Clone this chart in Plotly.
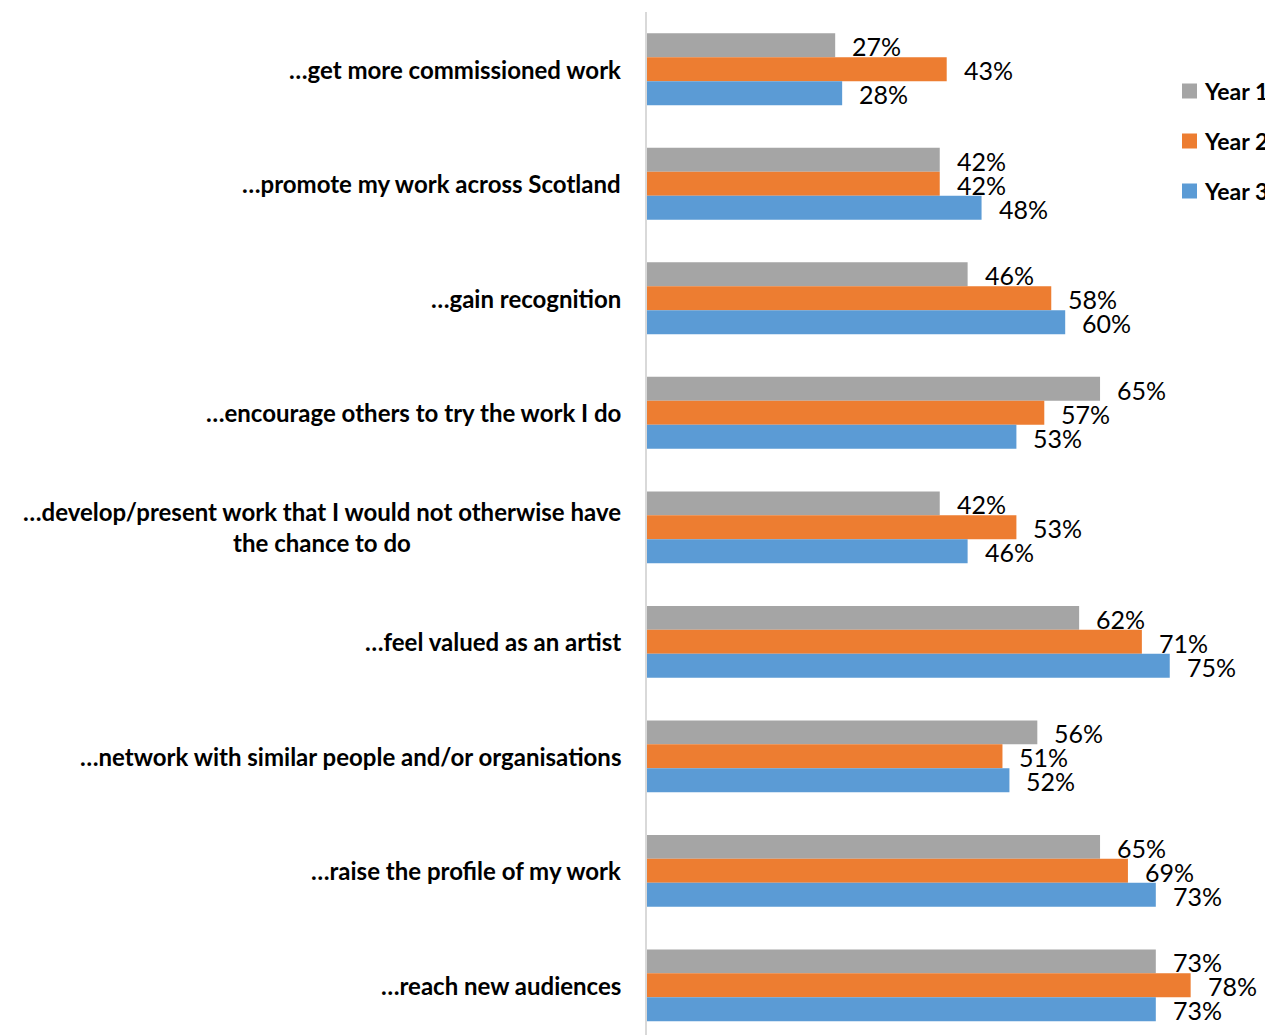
import plotly.graph_objects as go

# Survey statements (top to bottom) and percentage agreeing in each year
categories = [
    "…get more commissioned work",
    "…promote my work across Scotland",
    "…gain recognition",
    "…encourage others to try the work I do",
    "…develop/present work that I would not otherwise have<br>the chance to do",
    "…feel valued as an artist",
    "…network with similar people and/or organisations",
    "…raise the profile of my work",
    "…reach new audiences",
]
series_names = ["Year 1", "Year 2", "Year 3"]
year1 = [27, 42, 46, 65, 42, 62, 56, 65, 73]
year2 = [43, 42, 58, 57, 53, 71, 51, 69, 78]
year3 = [28, 48, 60, 53, 46, 75, 52, 73, 73]
colors = ["#A5A5A5", "#ED7D31", "#5B9BD5"]

LABEL_FONT = "Lato"
series = [year1, year2, year3]
ypos = list(range(len(categories)))
bar_w = 0.209  # thickness of one bar in category units

fig = go.Figure()
for name, vals, col in zip(series_names, series, colors):
    fig.add_trace(go.Bar(
        x=vals, y=ypos, name=name, orientation="h",
        marker=dict(color=col, line=dict(width=0)),
        showlegend=False,
    ))

annotations = []
# value labels just beyond each bar end
for k, vals in enumerate(series):
    for i, v in enumerate(vals):
        annotations.append(dict(
            x=v, y=i + (k - 1) * bar_w, xref="x", yref="y",
            text=f"{v}%", showarrow=False, xanchor="left", yanchor="middle",
            xshift=15, yshift=-1,
            font=dict(family=LABEL_FONT, size=25, color="#000000"),
        ))

# category labels, right-aligned left of the axis
for i, c in enumerate(categories):
    annotations.append(dict(
        x=0, y=i, xref="paper", yref="y", text=f"<b>{c}</b>", showarrow=False,
        xanchor="right", yanchor="middle", align="center", xshift=-24,
        font=dict(family=LABEL_FONT, size=24, color="#000000"),
    ))

# legend drawn as swatches plus bold text
shapes = []
legend_y = [91, 141, 191]
fig_w, fig_h = 1265, 1035
for name, col, ly in zip(series_names, colors, legend_y):
    shapes.append(dict(
        type="rect", xref="paper", yref="paper",
        x0=(1182 - 647) / (fig_w - 647), x1=(1197 - 647) / (fig_w - 647),
        y0=(fig_h - ly - 7.5) / (fig_h - 12), y1=(fig_h - ly + 7.5) / (fig_h - 12),
        fillcolor=col, line=dict(width=0),
    ))
    annotations.append(dict(
        x=(1202 - 647) / (fig_w - 647), y=(fig_h - ly) / (fig_h - 12),
        xref="paper", yref="paper", text=f"<b>{name}</b>", showarrow=False,
        xanchor="left", yanchor="middle",
        font=dict(family=LABEL_FONT, size=23, color="#000000"),
    ))

fig.update_layout(
    width=fig_w, height=fig_h,
    margin=dict(l=647, r=0, t=12, b=0),
    plot_bgcolor="white", paper_bgcolor="white",
    barmode="group", bargap=1 - 3 * bar_w, bargroupgap=0,
    annotations=annotations, shapes=shapes,
    xaxis=dict(range=[0, 618 / 6.97], showgrid=False, zeroline=False,
               showticklabels=False, showline=False, ticks=""),
    yaxis=dict(range=[8.434, -0.5], showgrid=False, zeroline=False,
               showticklabels=False, ticks="", showline=True,
               linecolor="#D9D9D9", linewidth=2),
    font=dict(family=LABEL_FONT),
)

fig.write_html("out.html")
